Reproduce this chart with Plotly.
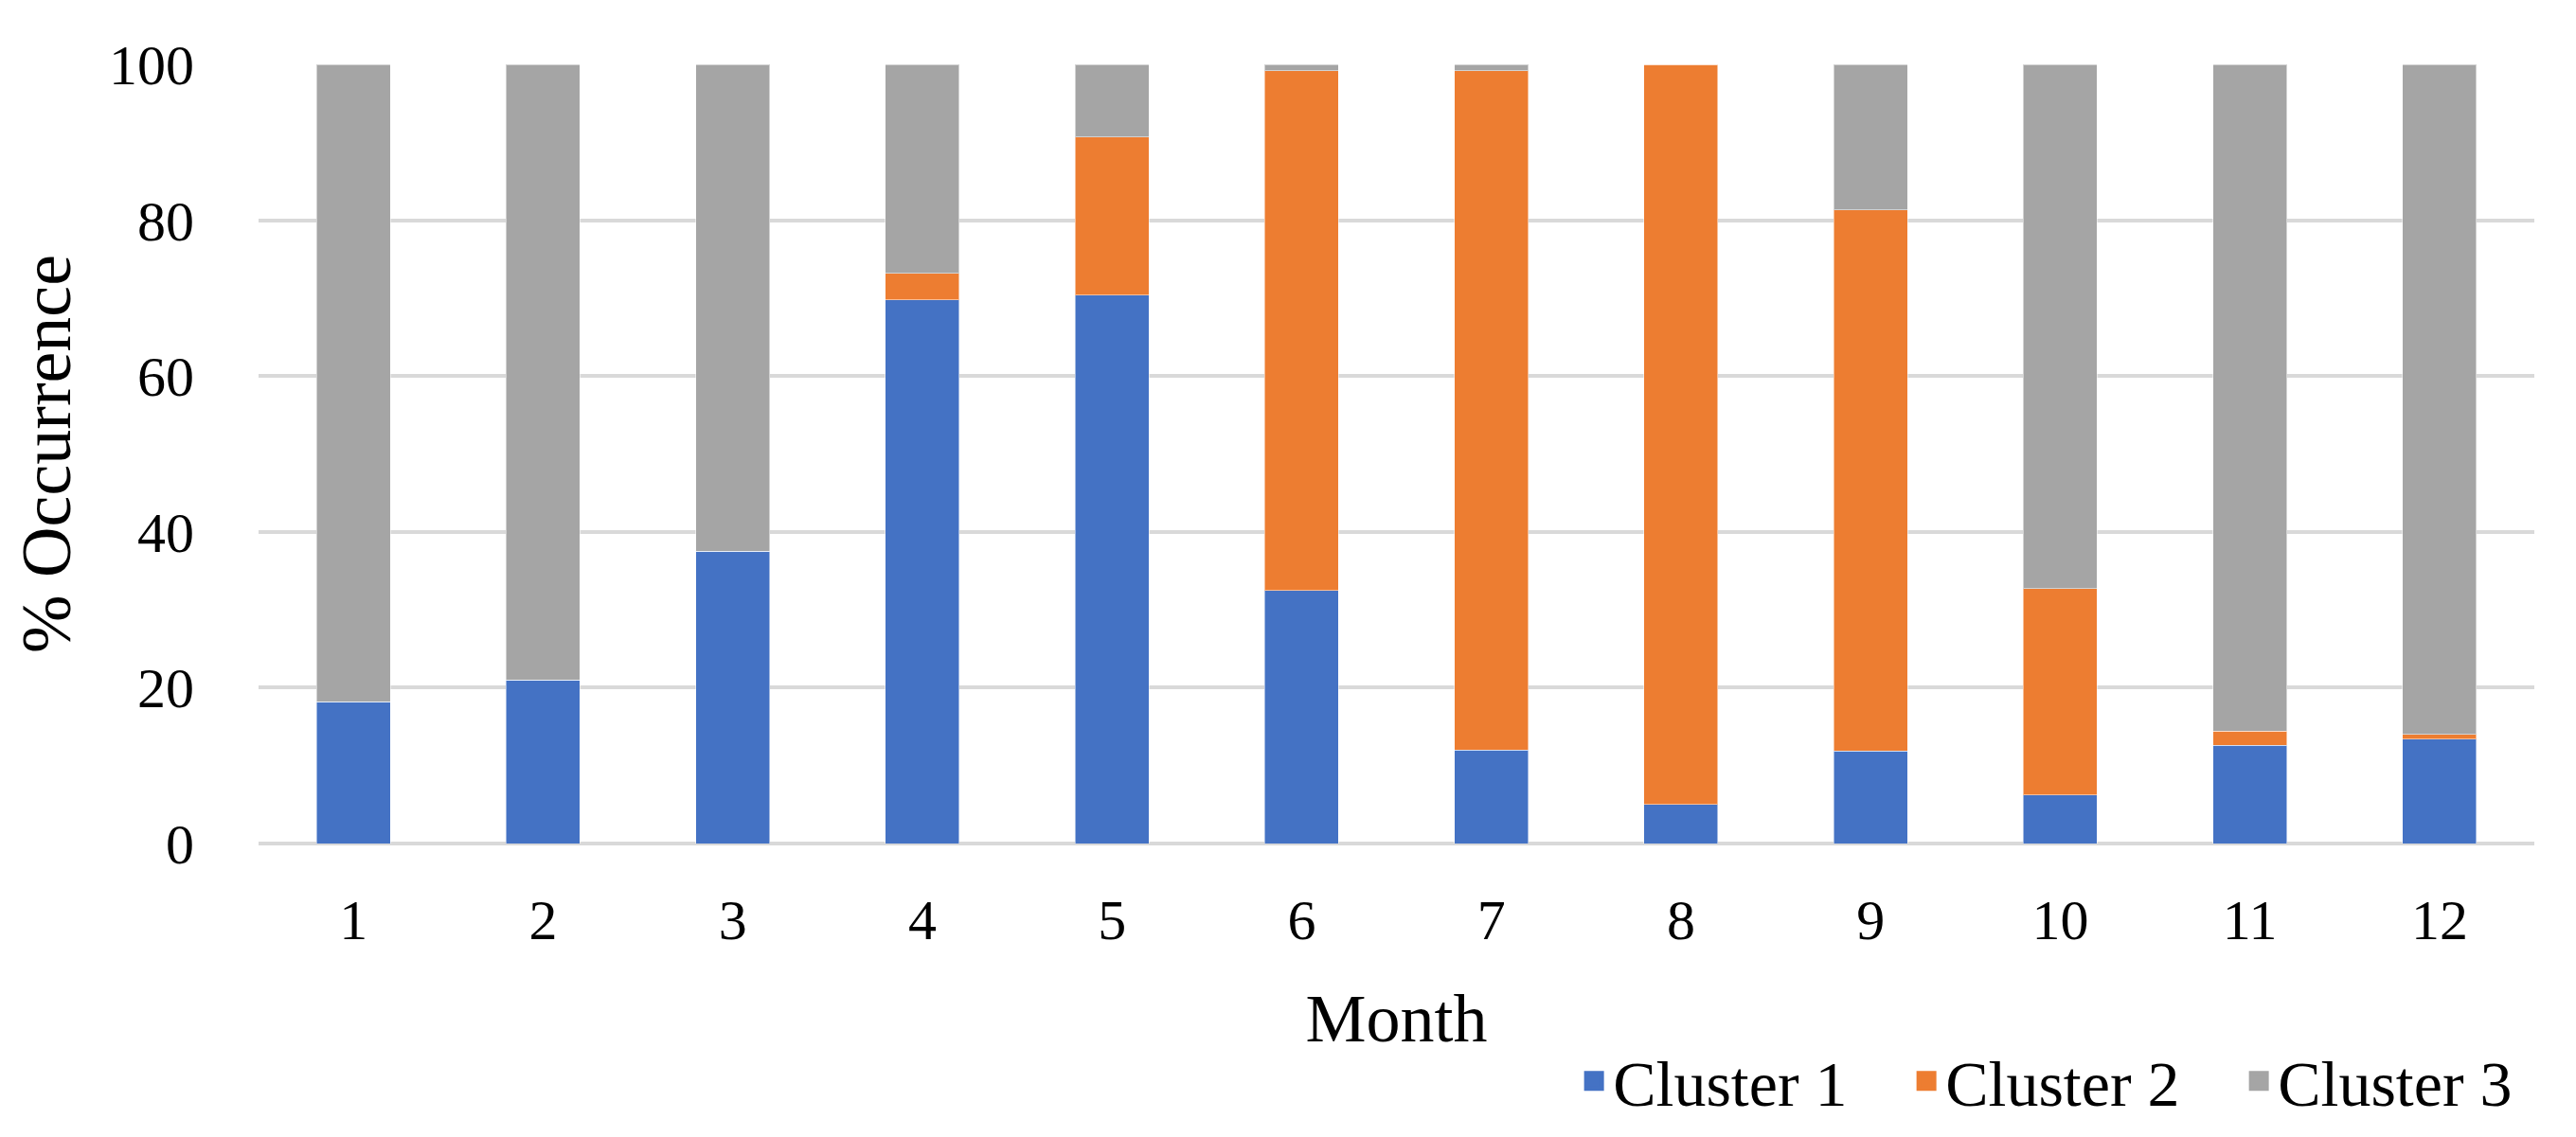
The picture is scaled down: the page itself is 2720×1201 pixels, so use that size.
import plotly.graph_objects as go

months = ["1", "2", "3", "4", "5", "6", "7", "8", "9", "10", "11", "12"]
cluster1 = [18.2, 21.0, 37.5, 69.8, 70.4, 32.5, 12.0, 5.0, 11.9, 6.2, 12.6, 13.4]
cluster2 = [0.0, 0.0, 0.0, 3.4, 20.3, 66.7, 87.2, 95.0, 69.4, 26.5, 1.8, 0.6]
cluster3 = [81.8, 79.0, 62.5, 26.8, 9.3, 0.8, 0.8, 0.0, 18.7, 67.3, 85.6, 86.0]

series = [("Cluster 1", cluster1, "#4472C4"),
          ("Cluster 2", cluster2, "#ED7D31"),
          ("Cluster 3", cluster3, "#A5A5A5")]

FONT = "Liberation Serif"

fig = go.Figure()
for name, vals, col in series:
    fig.add_trace(go.Bar(x=months, y=vals, name=name, legendgroup=name, showlegend=False,
                         marker=dict(color=col, line=dict(width=1, color="rgba(255,255,255,0.5)"))))
# legend keys (larger square swatches)
for name, vals, col in series:
    fig.add_trace(go.Scatter(x=[None], y=[None], mode="markers", name=name, legendgroup=name,
                             marker=dict(symbol="square", size=16, color=col,
                                         line=dict(width=5, color=col))))

fig.update_layout(
    barmode="stack",
    bargap=0.61,
    width=2720, height=1201,
    margin=dict(l=265, r=52, t=60, b=318),
    paper_bgcolor="white", plot_bgcolor="white",
    font=dict(family=FONT, color="black", size=60),
    legend=dict(orientation="h", xanchor="left", x=0.5785, yanchor="middle", y=-0.305,
                font=dict(size=68, family=FONT), itemwidth=30, traceorder="normal",
                entrywidth=306),
    xaxis=dict(type="category", showgrid=False, showline=False, ticks="",
               tickfont=dict(size=60), ticklabelstandoff=40,
               title=dict(text="Month", font=dict(size=72), standoff=45)),
    yaxis=dict(range=[0, 100], tickvals=[0, 20, 40, 60, 80, 100], showgrid=True,
               gridcolor="#D9D9D9", gridwidth=4, zeroline=True, zerolinecolor="#D9D9D9",
               zerolinewidth=4, showline=False, ticks="", tickfont=dict(size=60),
               ticklabelstandoff=67,
               title=dict(text="% Occurrence", font=dict(size=74), standoff=20)),
)

fig.write_html("out.html")
